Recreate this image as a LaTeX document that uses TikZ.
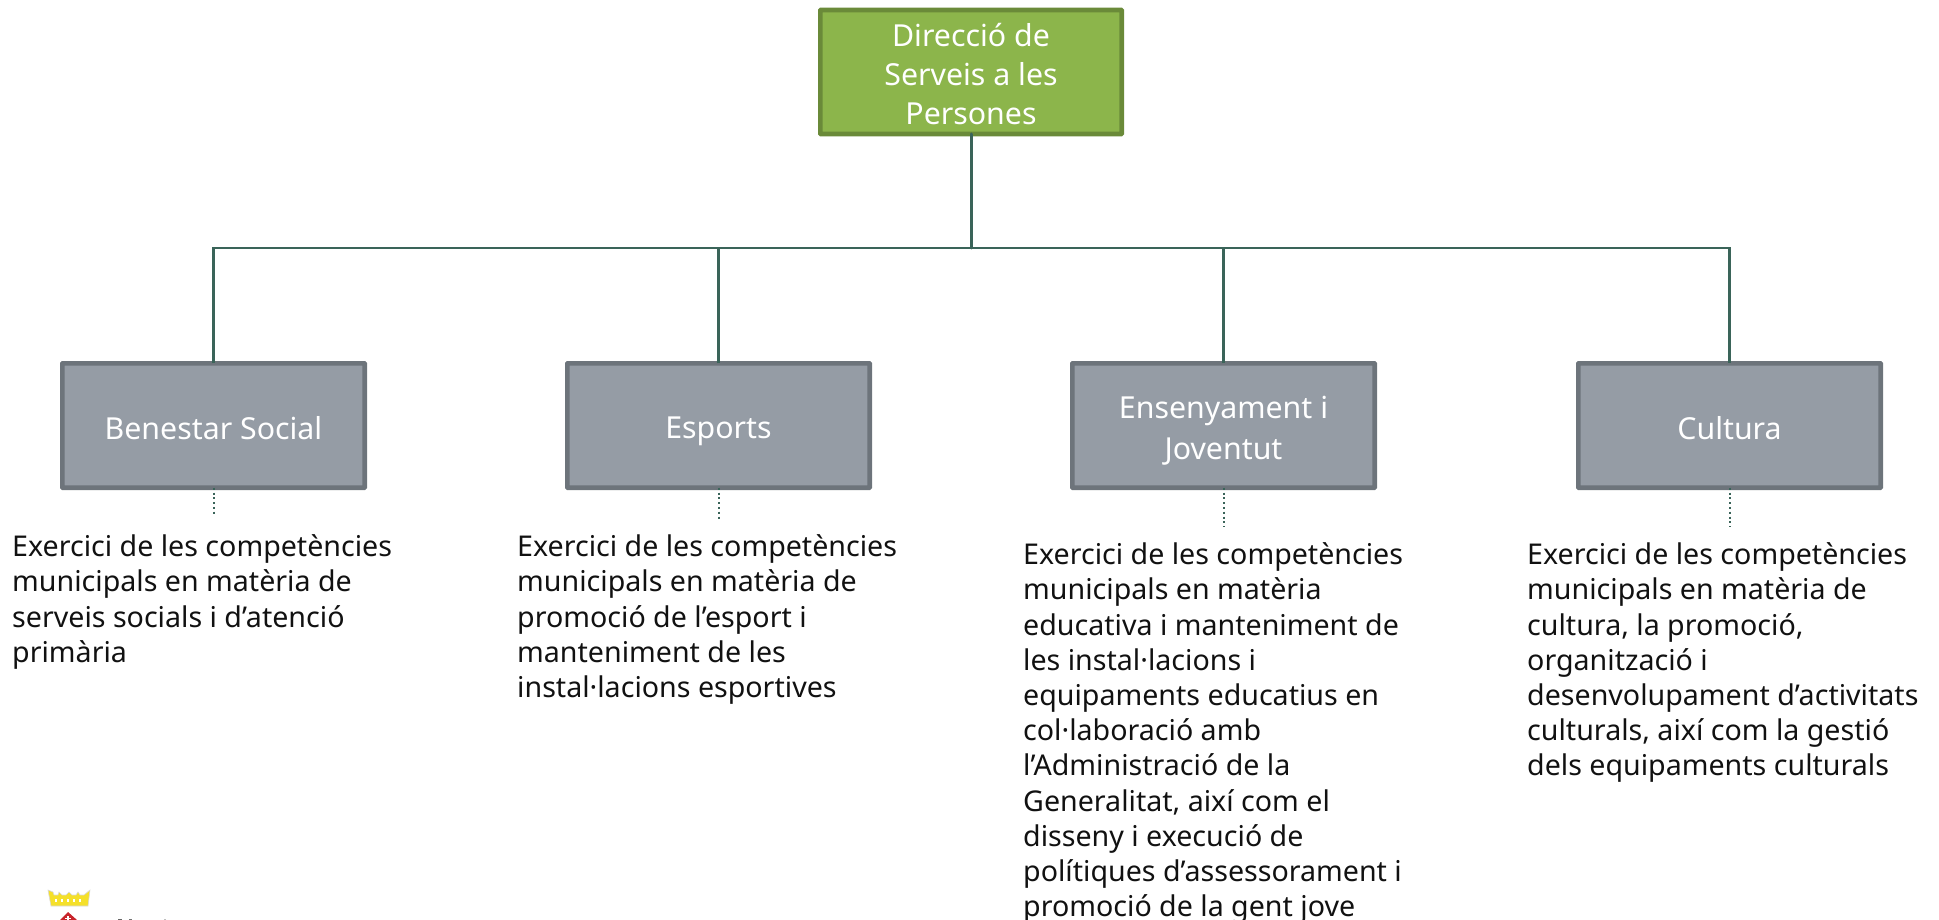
\documentclass[tikz,border=0pt]{standalone}
\usepackage{fontspec}
\setmainfont{Noto Sans}
\definecolor{greenfill}{HTML}{8CB54B}
\definecolor{greenline}{HTML}{6A8A39}
\definecolor{greyfill}{HTML}{959CA5}
\definecolor{greyline}{HTML}{6D747B}
\definecolor{conn}{HTML}{3A6459}
\definecolor{bodytext}{HTML}{111111}
\definecolor{crowny}{HTML}{F5E02A}
\definecolor{shieldred}{HTML}{C8242B}
\newcommand{\boxstrut}{\rule[-6pt]{0pt}{39pt}}
\begin{document}
\begin{tikzpicture}[x=1pt,y=-1pt,
  box/.style={draw=greyline,fill=greyfill,line width=4.6pt,rounded corners=0.5pt,text=white,align=center,font=\fontsize{30.3}{39}\selectfont,minimum width=302.4pt,minimum height=124.4pt,inner sep=0pt,outer sep=0pt},
  topbox/.style={box,draw=greenline,fill=greenfill,minimum width=301.4pt,minimum height=124pt},
  desc/.style={anchor=north west,align=left,inner sep=0pt,text=bodytext,font=\fontsize{28.6}{35.2}\selectfont},
  link/.style={draw=conn,line width=2.4pt},
  dots/.style={draw=conn,line width=2pt,dash pattern=on 2pt off 2.8pt}]
\useasboundingbox (0,0) rectangle (1939,920);
\node[topbox] (top) at (971,72) {\boxstrut Direcció de\\\boxstrut Serveis a les\\\boxstrut Persones};
\node[box] (a) at (213.5,425.5) {\boxstrut Benestar Social};
\node[box] (b) at (718.5,425.5) {\boxstrut Esports};
\node[box] (c) at (1223.5,425.5) {\boxstrut Ensenyament i\\\boxstrut Joventut};
\node[box] (d) at (1729.5,425.5) {\boxstrut Cultura};
\coordinate (bus) at (971,248);
\draw[link,line width=3pt,line cap=round] (top.south) -- (bus);
\draw[link] (a.north) |- (bus) -| (d.north);
\draw[link] (b.north) -- (b.north |- bus);
\draw[link] (c.north) -- (c.north |- bus);
\node[desc] (ta) at (12,534.5) {Exercici de les competències\\municipals en matèria de\\serveis socials i d’atenció\\primària};
\node[desc] (tb) at (517,534.5) {Exercici de les competències\\municipals en matèria de\\promoció de l’esport i\\manteniment de les\\instal·lacions esportives};
\node[desc] (tc) at (1023,542.5) {Exercici de les competències\\municipals en matèria\\educativa i manteniment de\\les instal·lacions i\\equipaments educatius en\\col·laboració amb\\l’Administració de la\\Generalitat, així com el\\disseny i execució de\\polítiques d’assessorament i\\promoció de la gent jove};
\node[desc] (td) at (1527,542.5) {Exercici de les competències\\municipals en matèria de\\cultura, la promoció,\\organització i\\desenvolupament d’activitats\\culturals, així com la gestió\\dels equipaments culturals};
\coordinate (da) at (213.5,516);
\coordinate (db) at (718.5,521);
\coordinate (dc) at (1223.5,527);
\coordinate (dd) at (1729.5,527);
\draw[dots] (a.south) -- (da);
\draw[dots] (b.south) -- (db);
\draw[dots] (c.south) -- (dc);
\draw[dots] (d.south) -- (dd);
% coat of arms, cropped by the page edge
\fill[crowny,draw=black!15,line width=0.6pt] (48,890) -- (53,892) -- (54,895) -- (58,895) -- (59,892) -- (62,895) -- (66,895) -- (69,892) -- (72,895) -- (76,895) -- (78,892) -- (80,895) -- (84,895) -- (90,890) -- (88,906) -- (51,906) -- cycle;
\foreach \hx in {56,62,68,74,80} {\fill[white] (\hx-1,899) rectangle (\hx+1,901.5);}
\fill[shieldred] (68,912) -- (60,920) -- (77,920) -- cycle;
\fill[white] (67,916) rectangle (69,920);
\fill[white] (65,917.5) rectangle (71,919);
% cropped tops of the logo's lettering
\fill[black!60] (118,918.5) rectangle (122,920);
\fill[black!55] (129,918.5) rectangle (132,920);
\fill[black!25] (164,919) rectangle (166,920);
\end{tikzpicture}
\end{document}
